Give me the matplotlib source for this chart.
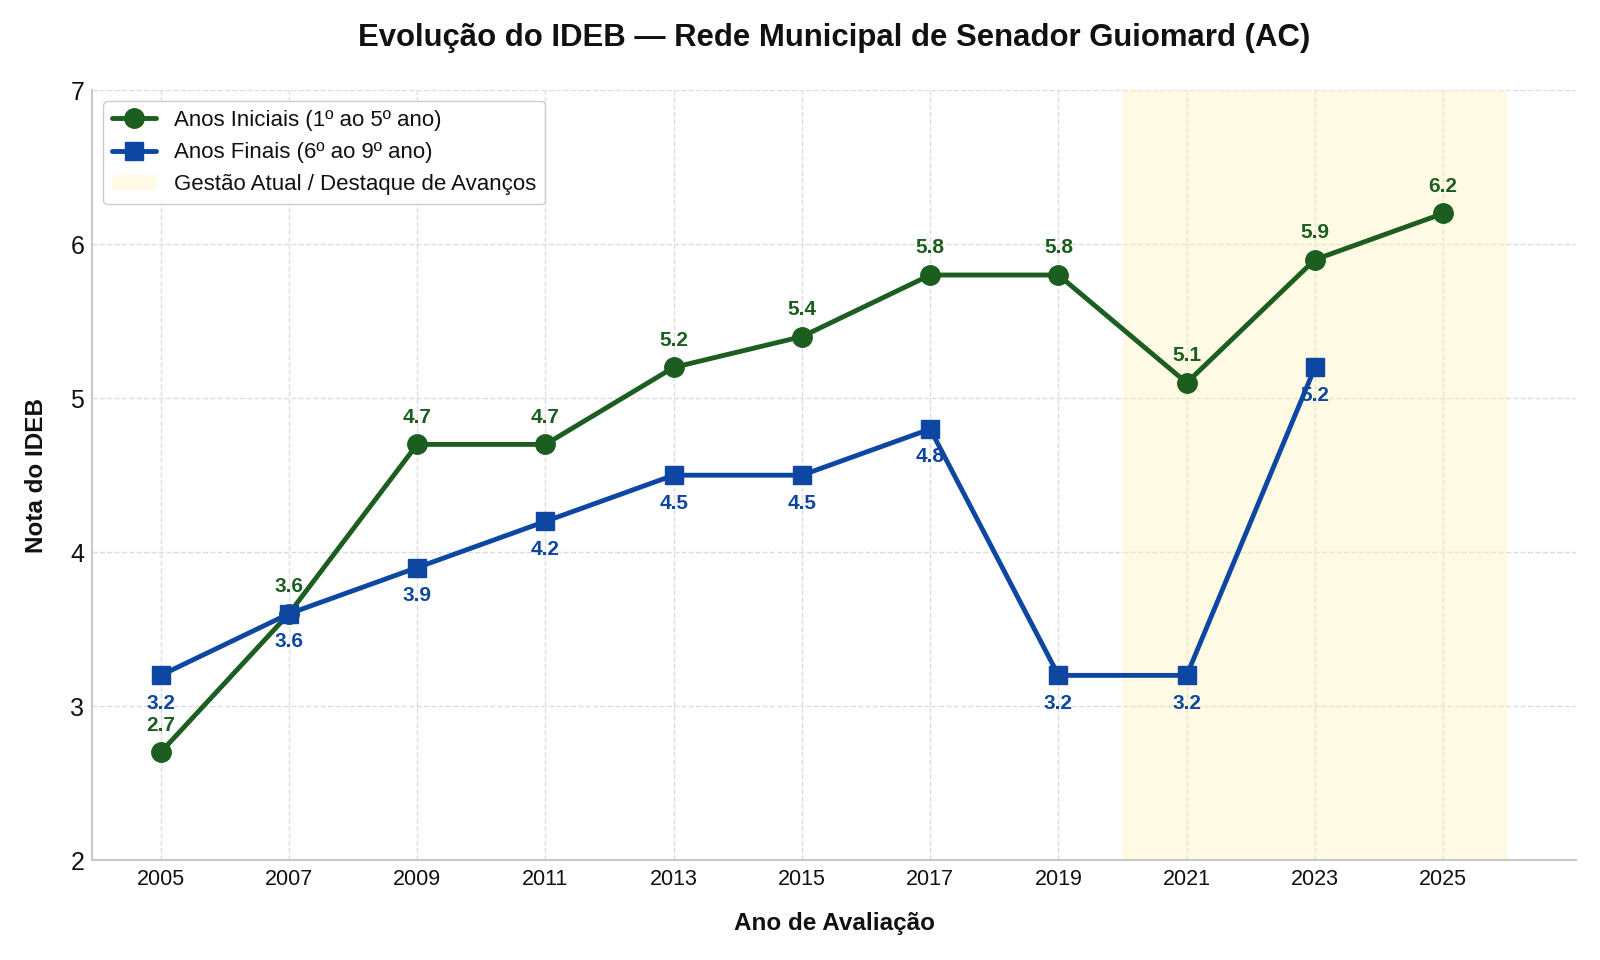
import numpy as np
import matplotlib
matplotlib.use("Agg")
import matplotlib.pyplot as plt
from matplotlib.patches import Patch

plt.style.use("seaborn-v0_8-whitegrid")
plt.rcParams['font.family'] = ['Liberation Sans', 'DejaVu Sans']
plt.rcParams['text.color'] = '#111111'
plt.rcParams['axes.labelcolor'] = '#111111'
plt.rcParams['xtick.color'] = '#111111'
plt.rcParams['ytick.color'] = '#111111'

# Dados IDEB
anos_iniciais = [2005, 2007, 2009, 2011, 2013, 2015, 2017, 2019, 2021, 2023, 2025]
ideb_iniciais = [2.7, 3.6, 4.7, 4.7, 5.2, 5.4, 5.8, 5.8, 5.1, 5.9, 6.2]

anos_finais = [2005, 2007, 2009, 2011, 2013, 2015, 2017, 2019, 2021, 2023]
ideb_finais = [3.2, 3.6, 3.9, 4.2, 4.5, 4.5, 4.8, 3.2, 3.2, 5.2]

gestao_inicio, gestao_fim = 2020, 2026

verde = '#1b5e20'
azul = '#0d47a1'

fig, ax = plt.subplots(figsize=(16, 9.6), dpi=100)
fig.subplots_adjust(left=0.0575, right=0.985, top=0.906, bottom=0.104)

ax.axvspan(gestao_inicio, gestao_fim, color='#fff3b0', alpha=0.35, lw=0, zorder=1)

ax.plot(anos_iniciais, ideb_iniciais, color=verde, marker='o', lw=3.5,
        markersize=14, zorder=5, label='Anos Iniciais (1º ao 5º ano)')
ax.plot(anos_finais, ideb_finais, color=azul, marker='s', lw=3.5,
        markersize=13.5, zorder=5, label='Anos Finais (6º ao 9º ano)')

for x, y in zip(anos_iniciais, ideb_iniciais):
    ax.text(x, y + 0.115, f"{y:.1f}", color=verde, fontsize=15, fontweight='bold',
            ha='center', va='bottom', zorder=4)
for x, y in zip(anos_finais, ideb_finais):
    ax.text(x, y - 0.12, f"{y:.1f}", color=azul, fontsize=15, fontweight='bold',
            ha='center', va='top', zorder=4)

ax.set_xlim(2003.93, 2027.07)
ax.set_ylim(2, 7)
ax.set_xticks(anos_iniciais)
ax.tick_params(axis='x', labelsize=15.5, pad=6.5)
ax.tick_params(axis='y', labelsize=18, pad=5.5)

ax.grid(True, linestyle='--', color='#dddddd', linewidth=1)
for s in ['top', 'right']:
    ax.spines[s].set_visible(False)
for s in ['left', 'bottom']:
    ax.spines[s].set_visible(True)
    ax.spines[s].set_color('#c8c8c8')
    ax.spines[s].set_linewidth(1.5)

ax.set_title('Evolução do IDEB — Rede Municipal de Senador Guiomard (AC)',
             fontsize=22.4, fontweight='bold', pad=32)
ax.set_xlabel('Ano de Avaliação', fontsize=17.5, fontweight='bold', labelpad=16)
ax.set_ylabel('Nota do IDEB', fontsize=17.5, fontweight='bold', labelpad=16)

handles, labels = ax.get_legend_handles_labels()
handles.append(Patch(facecolor='#fff3b0', alpha=0.35, edgecolor='none'))
labels.append('Gestão Atual / Destaque de Avanços')
ax.legend(handles, labels, loc='upper left', fontsize=16, frameon=True,
          facecolor='white', edgecolor='#cccccc', framealpha=1)

fig.savefig('out.png', dpi=100)
